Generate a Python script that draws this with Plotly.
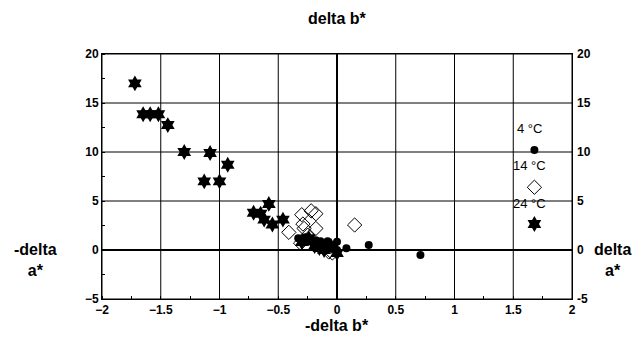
import plotly.graph_objects as go

# 24 °C (stars)
star_x = [-1.72, -1.65, -1.59, -1.52, -1.44, -1.30, -1.08, -0.93, -1.13, -1.00,
          -0.58, -0.71, -0.65, -0.62, -0.55, -0.46,
          -0.30, -0.24, -0.19, -0.15, -0.11, -0.05, 0.0]
star_y = [17.0, 13.85, 13.85, 13.85, 12.75, 10.0, 9.9, 8.7, 7.0, 7.0,
          4.7, 3.8, 3.7, 3.1, 2.6, 3.1,
          0.8, 1.2, 0.4, 0.2, 0.0, 0.4, -0.3]

# 14 °C (open diamonds)
dia_x = [-0.30, -0.22, -0.18, -0.41, -0.29, -0.28, -0.18, 0.15, -0.31, -0.07, -0.25, -0.04]
dia_y = [3.6, 4.0, 3.7, 1.8, 2.65, 2.2, 2.2, 2.55, 0.7, -0.2, 1.5, -0.3]

# 4 °C (filled circles)
circ_x = [-0.33, -0.30, -0.27, -0.25, -0.22, -0.20, -0.18, -0.16, -0.14, -0.12,
          -0.10, -0.08, -0.06, -0.02, 0.0, 0.0, 0.08, 0.27, 0.71]
circ_y = [1.2, 1.0, 1.3, 0.9, 1.1, 0.7, 1.0, 0.5, 0.9, 0.3,
          0.6, 0.9, 0.2, 0.1, 0.85, 0.0, 0.17, 0.5, -0.5]

legend_labels = ["4 °C", "14 °C", "24 °C"]
legend_x = 1.68
legend_marker_y = [10.2, 6.4, 2.65]
legend_text_y = [12.4, 8.6, 4.7]

x_ticks = [-2, -1.5, -1, -0.5, 0, 0.5, 1, 1.5, 2]
y_ticks = [-5, 0, 5, 10, 15, 20]

FONT = "Liberation Sans, Arial, sans-serif"

fig = go.Figure()

# grid lines at the tick positions (drawn as shapes beneath the markers)
for v in x_ticks:
    fig.add_shape(type="line", xref="x", yref="paper", x0=v, x1=v, y0=0, y1=1,
                  line=dict(color="black", width=2 if v == 0 else 1), layer="below")
for v in y_ticks:
    fig.add_shape(type="line", xref="paper", yref="y", x0=0, x1=1, y0=v, y1=v,
                  line=dict(color="black", width=2 if v == 0 else 1), layer="below")

fig.add_trace(go.Scatter(
    x=circ_x + [legend_x], y=circ_y + [legend_marker_y[0]], mode="markers",
    marker=dict(symbol="circle", size=8, color="black"),
    showlegend=False))
fig.add_trace(go.Scatter(
    x=dia_x + [legend_x], y=dia_y + [legend_marker_y[1]], mode="markers",
    marker=dict(symbol="diamond-open", size=11, color="black", line=dict(width=1)),
    showlegend=False))
fig.add_trace(go.Scatter(
    x=star_x + [legend_x], y=star_y + [legend_marker_y[2]], mode="markers",
    marker=dict(symbol="hexagram", size=12, color="black", line=dict(width=0)),
    showlegend=False))

for lbl, ty in zip(legend_labels, legend_text_y):
    fig.add_annotation(x=legend_x - 0.04, y=ty, text=lbl, showarrow=False,
                       font=dict(family=FONT, size=13, color="black"))

axis_font = dict(family=FONT, size=12, color="black", weight="bold")

# right-side tick labels (mirror of the left axis)
for v in y_ticks:
    fig.add_annotation(xref="paper", yref="y", x=1, y=v, text=f"<b>{v:g}</b>",
                       showarrow=False, xanchor="left", xshift=3,
                       font=dict(family=FONT, size=12, color="black"))

fig.update_layout(
    width=640, height=360,
    margin=dict(l=102, r=68, t=54, b=61, autoexpand=False),
    paper_bgcolor="white", plot_bgcolor="white",
    font=dict(family=FONT, color="black"),
    xaxis=dict(range=[-2, 2], tickvals=x_ticks,
               tickfont=axis_font, showgrid=False, zeroline=False,
               showline=True, linecolor="black", linewidth=1, mirror=True,
               ticks="", minor=dict(dtick=0.25, tick0=0, ticks="inside", ticklen=3,
                                    tickcolor="black")),
    yaxis=dict(range=[-5, 20], tickvals=y_ticks,
               tickfont=axis_font, showgrid=False, zeroline=False,
               showline=True, linecolor="black", linewidth=1, mirror=True,
               ticks="", minor=dict(dtick=2.5, tick0=0, ticks="inside", ticklen=3,
                                    tickcolor="black")),
)

title_font = dict(family=FONT, size=16, color="black")
fig.add_annotation(text="<b>delta b*</b>", xref="paper", yref="paper", x=0.5, y=1,
                   yanchor="middle", xanchor="center",
                   yshift=36, showarrow=False, font=title_font)
fig.add_annotation(text="<b>-delta b*</b>", xref="paper", yref="paper", x=0.5, y=0,
                   yanchor="middle", xanchor="center",
                   yshift=-26, showarrow=False, font=title_font)
fig.add_annotation(text="<b>-delta<br>a*</b>", xref="paper", yref="y", x=0, y=-1,
                   xanchor="center", yanchor="middle",
                   xshift=-67, showarrow=False, font=title_font, align="center")
fig.add_annotation(text="<b>delta<br>a*</b>", xref="paper", yref="y", x=1, y=-1,
                   xanchor="center", yanchor="middle",
                   xshift=40, showarrow=False, font=title_font, align="center")

fig.write_html("out.html", config={"displayModeBar": False},
               post_script="document.body.style.margin='0px';")
